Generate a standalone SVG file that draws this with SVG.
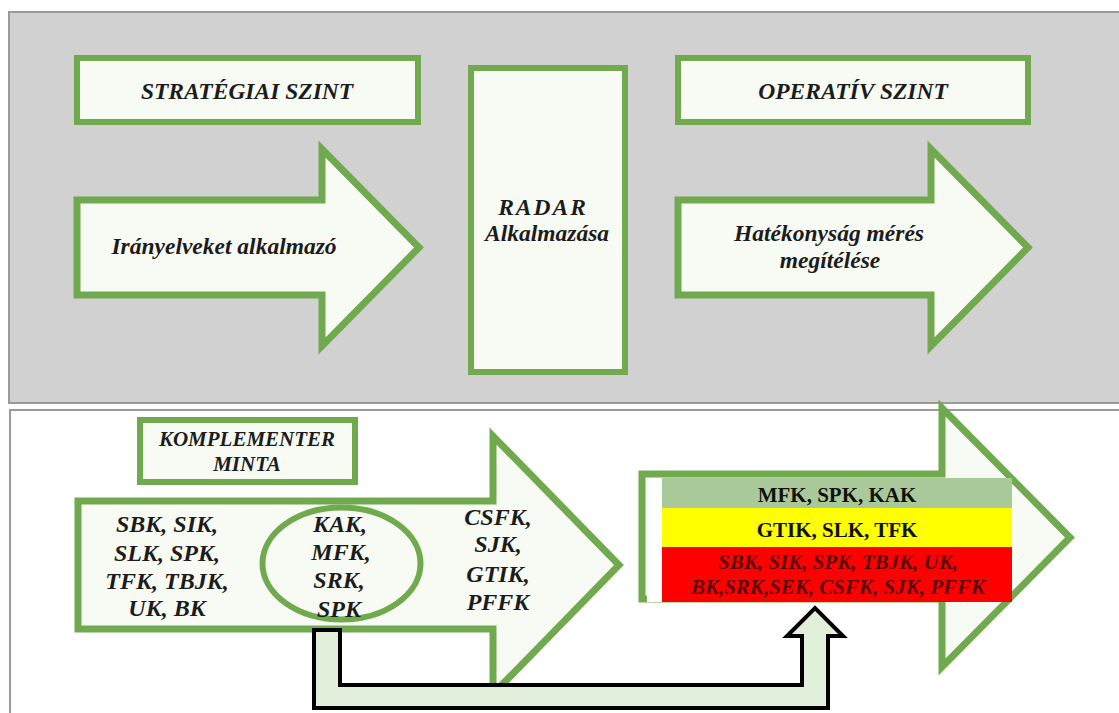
<svg xmlns="http://www.w3.org/2000/svg" width="1119" height="713" viewBox="0 0 1119 713">
<style>
.panel{stroke:#9a9a9a;stroke-width:2}
.box{fill:#f8fbf4;stroke:#70a94e;stroke-width:6}
.arr{fill:#f8fbf4;stroke:#70a94e;stroke-width:7;stroke-linejoin:miter}
.t{font-family:"Liberation Serif","Times New Roman",serif;font-weight:bold;font-style:italic;fill:#1c1c1c;text-anchor:middle}
.tb{font-family:"Liberation Serif","Times New Roman",serif;font-weight:bold;fill:#111;text-anchor:middle}
.tr{font-family:"Liberation Serif","Times New Roman",serif;font-weight:bold;font-style:italic;fill:#5a0000;text-anchor:middle}
</style>
<rect width="1119" height="713" fill="#ffffff"/>
<rect id="panel-top" class="panel" x="9" y="12" width="1115" height="391" fill="#d1d1d1"/>
<rect id="panel-bottom" class="panel" x="10" y="410" width="1115" height="310" fill="#ffffff"/>

<g id="strategiai-szint">
<rect class="box" x="77" y="58" width="341" height="64"/>
<text class="t" x="247" y="99" font-size="23.5">STRATÉGIAI SZINT</text>
</g>
<g id="iranyelveket">
<polygon class="arr" points="77,200 322,200 322,149 419,247.5 322,346 322,295 77,295"/>
<text class="t" x="224" y="254" font-size="23.5">Irányelveket alkalmazó</text>
</g>
<g id="radar">
<rect class="box" x="471" y="68" width="154" height="304"/>
<text class="t" x="543" y="215" font-size="23.5" letter-spacing="2">RADAR</text>
<text class="t" x="547" y="241" font-size="23.5">Alkalmazása</text>
</g>
<g id="operativ-szint">
<rect class="box" x="678" y="58" width="350" height="64"/>
<text class="t" x="853" y="99" font-size="23.5">OPERATÍV SZINT</text>
</g>
<g id="hatekonysag">
<polygon class="arr" points="678,200 931,200 931,149 1028,247.5 931,346 931,295 678,295"/>
<text class="t" x="829" y="241" font-size="23.5">Hatékonyság mérés</text>
<text class="t" x="830" y="268" font-size="23.5">megítélése</text>
</g>

<g id="komplementer-minta">
<rect class="box" x="140" y="420" width="215" height="62"/>
<text class="t" x="247" y="446" font-size="21">KOMPLEMENTER</text>
<text class="t" x="247" y="471" font-size="21">MINTA</text>
</g>
<g id="minta-arrow">
<polygon class="arr" points="78,501 493,501 493,436 619,565 493,694 493,629 78,629"/>
<ellipse cx="341.5" cy="563.5" rx="79" ry="56" fill="none" stroke="#70a94e" stroke-width="6"/>
<g class="t" font-size="24">
<text x="167" y="532">SBK, SIK,</text>
<text x="167" y="561">SLK, SPK,</text>
<text x="167" y="589">TFK, TBJK,</text>
<text x="167" y="616">UK, BK</text>
<text x="340" y="532">KAK,</text>
<text x="341" y="560">MFK,</text>
<text x="339" y="588">SRK,</text>
<text x="339" y="617">SPK</text>
<text x="498" y="525">CSFK,</text>
<text x="498" y="552">SJK,</text>
<text x="498" y="582">GTIK,</text>
<text x="498" y="610">PFFK</text>
</g>
</g>
<g id="eredmeny">
<polygon class="arr" points="642,474 942,474 942,408 1070,537.5 942,667 942,599 642,599"/>
<rect x="647" y="478" width="15" height="124" fill="#ffffff"/>
<rect x="662" y="478" width="350" height="30" fill="#a9c99a"/>
<rect x="662" y="508" width="350" height="39" fill="#ffff00"/>
<rect x="662" y="547" width="350" height="55" fill="#ff0000"/>
<text class="tb" x="837" y="502" font-size="21">MFK, SPK, KAK</text>
<text class="tb" x="837" y="537" font-size="21">GTIK, SLK, TFK</text>
<text class="tr" x="838" y="569" font-size="21">SBK, SIK, SPK, TBJK, UK,</text>
<text class="tr" x="838" y="594" font-size="21">BK,SRK,SEK, CSFK, SJK, PFFK</text>
</g>

<g id="connectors">
<polygon points="314,630 340,630 340,685 802,685 802,636 787,636 815,608 843,636 828,636 828,708 314,708" fill="#e2efda" stroke="#000000" stroke-width="4" stroke-linejoin="miter"/>
</g>
</svg>
